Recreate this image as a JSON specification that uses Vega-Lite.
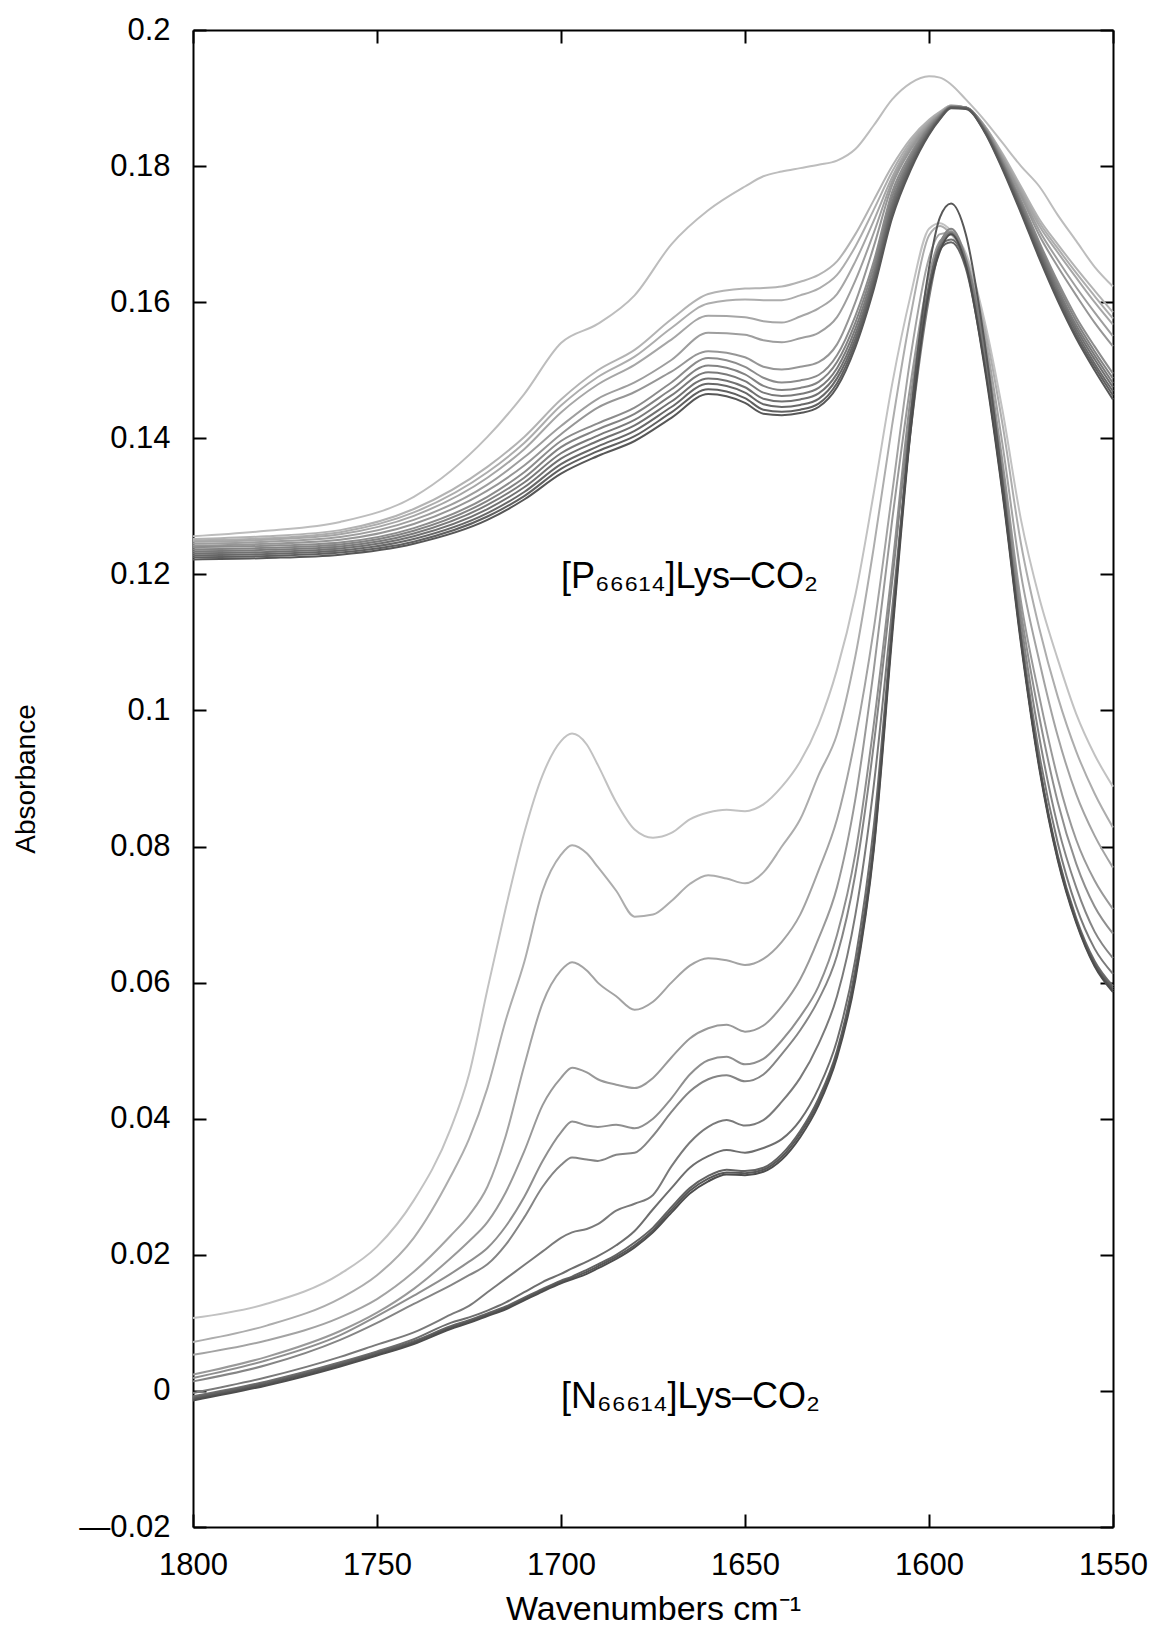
{
"$schema": "https://vega.github.io/schema/vega-lite/v6.json",
"width": 920, "height": 1497,
"autosize": "none",
"padding": {"left": 193, "top": 30, "right": 48, "bottom": 112},
"background": "white",
"config": {
  "view": {"stroke": null},
  "font": "Liberation Sans",
  "axis": {"domainColor": "black", "domainWidth": 2, "tickColor": "black", "tickWidth": 2, "tickSize": -13, "labelFont": "Liberation Sans", "labelFontSize": 31, "labelColor": "black", "titleFont": "Liberation Sans", "titleFontSize": 28, "titleFontWeight": "normal", "titleColor": "black", "grid": false, "labelPadding": 36, "labelFlush": false, "labelOverlap": false}
},
"datasets": {
"ann": [
 {"t": "[P₆₆₆₁₄]Lys–CO₂", "x": 1700, "y": 0.118},
 {"t": "[N₆₆₆₁₄]Lys–CO₂", "x": 1700, "y": -0.0025}
],
"spec": [
{"c":"U0","x":1800,"y":0.1256},{"c":"U0","x":1780,"y":0.1264},{"c":"U0","x":1760,"y":0.1277},{"c":"U0","x":1740,"y":0.1314},{"c":"U0","x":1720,"y":0.1402},{"c":"U0","x":1710,"y":0.1465},{"c":"U0","x":1700,"y":0.1540},{"c":"U0","x":1690,"y":0.1568},{"c":"U0","x":1680,"y":0.1610},{"c":"U0","x":1670,"y":0.1685},{"c":"U0","x":1660,"y":0.1735},{"c":"U0","x":1650,"y":0.1770},{"c":"U0","x":1645,"y":0.1785},{"c":"U0","x":1640,"y":0.1792},{"c":"U0","x":1635,"y":0.1797},{"c":"U0","x":1630,"y":0.1802},{"c":"U0","x":1625,"y":0.1808},{"c":"U0","x":1620,"y":0.1825},{"c":"U0","x":1615,"y":0.1860},{"c":"U0","x":1610,"y":0.1898},{"c":"U0","x":1605,"y":0.1922},{"c":"U0","x":1600,"y":0.1932},{"c":"U0","x":1597,"y":0.1930},{"c":"U0","x":1594,"y":0.1920},{"c":"U0","x":1590,"y":0.1898},{"c":"U0","x":1585,"y":0.1868},{"c":"U0","x":1580,"y":0.1834},{"c":"U0","x":1575,"y":0.1800},{"c":"U0","x":1570,"y":0.1770},{"c":"U0","x":1565,"y":0.1728},{"c":"U0","x":1560,"y":0.1690},{"c":"U0","x":1555,"y":0.1652},{"c":"U0","x":1550,"y":0.1623},
{"c":"U1","x":1800,"y":0.1252},{"c":"U1","x":1780,"y":0.1256},{"c":"U1","x":1760,"y":0.1265},{"c":"U1","x":1740,"y":0.1296},{"c":"U1","x":1720,"y":0.1358},{"c":"U1","x":1710,"y":0.1402},{"c":"U1","x":1700,"y":0.1457},{"c":"U1","x":1690,"y":0.1500},{"c":"U1","x":1680,"y":0.1530},{"c":"U1","x":1670,"y":0.1575},{"c":"U1","x":1660,"y":0.1612},{"c":"U1","x":1650,"y":0.1620},{"c":"U1","x":1645,"y":0.1621},{"c":"U1","x":1640,"y":0.1623},{"c":"U1","x":1635,"y":0.1630},{"c":"U1","x":1630,"y":0.1640},{"c":"U1","x":1625,"y":0.1660},{"c":"U1","x":1620,"y":0.1700},{"c":"U1","x":1615,"y":0.1750},{"c":"U1","x":1610,"y":0.1800},{"c":"U1","x":1605,"y":0.1840},{"c":"U1","x":1600,"y":0.1868},{"c":"U1","x":1597,"y":0.1880},{"c":"U1","x":1594,"y":0.1889},{"c":"U1","x":1590,"y":0.1886},{"c":"U1","x":1585,"y":0.1860},{"c":"U1","x":1580,"y":0.1818},{"c":"U1","x":1575,"y":0.1770},{"c":"U1","x":1570,"y":0.1722},{"c":"U1","x":1565,"y":0.1685},{"c":"U1","x":1560,"y":0.1650},{"c":"U1","x":1555,"y":0.1617},{"c":"U1","x":1550,"y":0.1585},
{"c":"U2","x":1800,"y":0.1250},{"c":"U2","x":1780,"y":0.1253},{"c":"U2","x":1760,"y":0.1262},{"c":"U2","x":1740,"y":0.1291},{"c":"U2","x":1720,"y":0.1350},{"c":"U2","x":1710,"y":0.1393},{"c":"U2","x":1700,"y":0.1448},{"c":"U2","x":1690,"y":0.1490},{"c":"U2","x":1680,"y":0.1520},{"c":"U2","x":1670,"y":0.1562},{"c":"U2","x":1660,"y":0.1598},{"c":"U2","x":1650,"y":0.1604},{"c":"U2","x":1645,"y":0.1603},{"c":"U2","x":1640,"y":0.1603},{"c":"U2","x":1635,"y":0.1610},{"c":"U2","x":1630,"y":0.1620},{"c":"U2","x":1625,"y":0.1640},{"c":"U2","x":1620,"y":0.1682},{"c":"U2","x":1615,"y":0.1736},{"c":"U2","x":1610,"y":0.1792},{"c":"U2","x":1605,"y":0.1836},{"c":"U2","x":1600,"y":0.1866},{"c":"U2","x":1597,"y":0.1879},{"c":"U2","x":1594,"y":0.1889},{"c":"U2","x":1590,"y":0.1886},{"c":"U2","x":1585,"y":0.1860},{"c":"U2","x":1580,"y":0.1816},{"c":"U2","x":1575,"y":0.1767},{"c":"U2","x":1570,"y":0.1717},{"c":"U2","x":1565,"y":0.1679},{"c":"U2","x":1560,"y":0.1643},{"c":"U2","x":1555,"y":0.1609},{"c":"U2","x":1550,"y":0.1576},
{"c":"U3","x":1800,"y":0.1248},{"c":"U3","x":1780,"y":0.1251},{"c":"U3","x":1760,"y":0.1259},{"c":"U3","x":1740,"y":0.1286},{"c":"U3","x":1720,"y":0.1342},{"c":"U3","x":1710,"y":0.1384},{"c":"U3","x":1700,"y":0.1438},{"c":"U3","x":1690,"y":0.1479},{"c":"U3","x":1680,"y":0.1508},{"c":"U3","x":1670,"y":0.1545},{"c":"U3","x":1660,"y":0.1580},{"c":"U3","x":1650,"y":0.1578},{"c":"U3","x":1645,"y":0.1572},{"c":"U3","x":1640,"y":0.1570},{"c":"U3","x":1635,"y":0.1579},{"c":"U3","x":1630,"y":0.1591},{"c":"U3","x":1625,"y":0.1612},{"c":"U3","x":1620,"y":0.1660},{"c":"U3","x":1615,"y":0.1720},{"c":"U3","x":1610,"y":0.1784},{"c":"U3","x":1605,"y":0.1832},{"c":"U3","x":1600,"y":0.1864},{"c":"U3","x":1597,"y":0.1878},{"c":"U3","x":1594,"y":0.1888},{"c":"U3","x":1590,"y":0.1886},{"c":"U3","x":1585,"y":0.1859},{"c":"U3","x":1580,"y":0.1814},{"c":"U3","x":1575,"y":0.1764},{"c":"U3","x":1570,"y":0.1712},{"c":"U3","x":1565,"y":0.1673},{"c":"U3","x":1560,"y":0.1636},{"c":"U3","x":1555,"y":0.1600},{"c":"U3","x":1550,"y":0.1567},
{"c":"U4","x":1800,"y":0.1245},{"c":"U4","x":1780,"y":0.1248},{"c":"U4","x":1760,"y":0.1255},{"c":"U4","x":1740,"y":0.1280},{"c":"U4","x":1720,"y":0.1332},{"c":"U4","x":1710,"y":0.1372},{"c":"U4","x":1700,"y":0.1418},{"c":"U4","x":1690,"y":0.1458},{"c":"U4","x":1680,"y":0.1482},{"c":"U4","x":1670,"y":0.1515},{"c":"U4","x":1660,"y":0.1555},{"c":"U4","x":1650,"y":0.1552},{"c":"U4","x":1645,"y":0.1544},{"c":"U4","x":1640,"y":0.1541},{"c":"U4","x":1635,"y":0.1547},{"c":"U4","x":1630,"y":0.1555},{"c":"U4","x":1625,"y":0.1578},{"c":"U4","x":1620,"y":0.1632},{"c":"U4","x":1615,"y":0.1702},{"c":"U4","x":1610,"y":0.1778},{"c":"U4","x":1605,"y":0.1828},{"c":"U4","x":1600,"y":0.1862},{"c":"U4","x":1597,"y":0.1877},{"c":"U4","x":1594,"y":0.1888},{"c":"U4","x":1590,"y":0.1886},{"c":"U4","x":1585,"y":0.1859},{"c":"U4","x":1580,"y":0.1812},{"c":"U4","x":1575,"y":0.1760},{"c":"U4","x":1570,"y":0.1705},{"c":"U4","x":1565,"y":0.1662},{"c":"U4","x":1560,"y":0.1622},{"c":"U4","x":1555,"y":0.1585},{"c":"U4","x":1550,"y":0.1550},
{"c":"U5","x":1800,"y":0.1242},{"c":"U5","x":1780,"y":0.1245},{"c":"U5","x":1760,"y":0.1251},{"c":"U5","x":1740,"y":0.1274},{"c":"U5","x":1720,"y":0.1323},{"c":"U5","x":1710,"y":0.1360},{"c":"U5","x":1700,"y":0.1406},{"c":"U5","x":1690,"y":0.1445},{"c":"U5","x":1680,"y":0.1468},{"c":"U5","x":1670,"y":0.1498},{"c":"U5","x":1660,"y":0.1528},{"c":"U5","x":1650,"y":0.1519},{"c":"U5","x":1645,"y":0.1505},{"c":"U5","x":1640,"y":0.1501},{"c":"U5","x":1635,"y":0.1505},{"c":"U5","x":1630,"y":0.1512},{"c":"U5","x":1625,"y":0.1538},{"c":"U5","x":1620,"y":0.1600},{"c":"U5","x":1615,"y":0.1682},{"c":"U5","x":1610,"y":0.1772},{"c":"U5","x":1605,"y":0.1824},{"c":"U5","x":1600,"y":0.1860},{"c":"U5","x":1597,"y":0.1876},{"c":"U5","x":1594,"y":0.1888},{"c":"U5","x":1590,"y":0.1886},{"c":"U5","x":1585,"y":0.1858},{"c":"U5","x":1580,"y":0.1810},{"c":"U5","x":1575,"y":0.1756},{"c":"U5","x":1570,"y":0.1698},{"c":"U5","x":1565,"y":0.1652},{"c":"U5","x":1560,"y":0.1610},{"c":"U5","x":1555,"y":0.1570},{"c":"U5","x":1550,"y":0.1535},
{"c":"U6","x":1800,"y":0.1240},{"c":"U6","x":1780,"y":0.1242},{"c":"U6","x":1760,"y":0.1247},{"c":"U6","x":1740,"y":0.1268},{"c":"U6","x":1720,"y":0.1314},{"c":"U6","x":1710,"y":0.1350},{"c":"U6","x":1700,"y":0.1396},{"c":"U6","x":1690,"y":0.1422},{"c":"U6","x":1680,"y":0.1445},{"c":"U6","x":1670,"y":0.1482},{"c":"U6","x":1660,"y":0.1518},{"c":"U6","x":1650,"y":0.1505},{"c":"U6","x":1645,"y":0.1489},{"c":"U6","x":1640,"y":0.1482},{"c":"U6","x":1635,"y":0.1485},{"c":"U6","x":1630,"y":0.1493},{"c":"U6","x":1625,"y":0.1522},{"c":"U6","x":1620,"y":0.1580},{"c":"U6","x":1615,"y":0.1660},{"c":"U6","x":1610,"y":0.1762},{"c":"U6","x":1605,"y":0.1818},{"c":"U6","x":1600,"y":0.1858},{"c":"U6","x":1597,"y":0.1875},{"c":"U6","x":1594,"y":0.1888},{"c":"U6","x":1590,"y":0.1886},{"c":"U6","x":1585,"y":0.1857},{"c":"U6","x":1580,"y":0.1807},{"c":"U6","x":1575,"y":0.1750},{"c":"U6","x":1570,"y":0.1688},{"c":"U6","x":1565,"y":0.1630},{"c":"U6","x":1560,"y":0.1578},{"c":"U6","x":1555,"y":0.1535},{"c":"U6","x":1550,"y":0.1495},
{"c":"U7","x":1800,"y":0.1237},{"c":"U7","x":1780,"y":0.1239},{"c":"U7","x":1760,"y":0.1244},{"c":"U7","x":1740,"y":0.1264},{"c":"U7","x":1720,"y":0.1308},{"c":"U7","x":1710,"y":0.1342},{"c":"U7","x":1700,"y":0.1387},{"c":"U7","x":1690,"y":0.1413},{"c":"U7","x":1680,"y":0.1436},{"c":"U7","x":1670,"y":0.1472},{"c":"U7","x":1660,"y":0.1507},{"c":"U7","x":1650,"y":0.1494},{"c":"U7","x":1645,"y":0.1477},{"c":"U7","x":1640,"y":0.1471},{"c":"U7","x":1635,"y":0.1474},{"c":"U7","x":1630,"y":0.1483},{"c":"U7","x":1625,"y":0.1512},{"c":"U7","x":1620,"y":0.1570},{"c":"U7","x":1615,"y":0.1652},{"c":"U7","x":1610,"y":0.1755},{"c":"U7","x":1605,"y":0.1814},{"c":"U7","x":1600,"y":0.1856},{"c":"U7","x":1597,"y":0.1874},{"c":"U7","x":1594,"y":0.1887},{"c":"U7","x":1590,"y":0.1886},{"c":"U7","x":1585,"y":0.1856},{"c":"U7","x":1580,"y":0.1805},{"c":"U7","x":1575,"y":0.1746},{"c":"U7","x":1570,"y":0.1684},{"c":"U7","x":1565,"y":0.1625},{"c":"U7","x":1560,"y":0.1572},{"c":"U7","x":1555,"y":0.1528},{"c":"U7","x":1550,"y":0.1488},
{"c":"U8","x":1800,"y":0.1234},{"c":"U8","x":1780,"y":0.1236},{"c":"U8","x":1760,"y":0.1241},{"c":"U8","x":1740,"y":0.1260},{"c":"U8","x":1720,"y":0.1302},{"c":"U8","x":1710,"y":0.1335},{"c":"U8","x":1700,"y":0.1378},{"c":"U8","x":1690,"y":0.1404},{"c":"U8","x":1680,"y":0.1427},{"c":"U8","x":1670,"y":0.1463},{"c":"U8","x":1660,"y":0.1497},{"c":"U8","x":1650,"y":0.1484},{"c":"U8","x":1645,"y":0.1467},{"c":"U8","x":1640,"y":0.1462},{"c":"U8","x":1635,"y":0.1465},{"c":"U8","x":1630,"y":0.1474},{"c":"U8","x":1625,"y":0.1503},{"c":"U8","x":1620,"y":0.1561},{"c":"U8","x":1615,"y":0.1644},{"c":"U8","x":1610,"y":0.1748},{"c":"U8","x":1605,"y":0.1810},{"c":"U8","x":1600,"y":0.1854},{"c":"U8","x":1597,"y":0.1873},{"c":"U8","x":1594,"y":0.1887},{"c":"U8","x":1590,"y":0.1886},{"c":"U8","x":1585,"y":0.1855},{"c":"U8","x":1580,"y":0.1803},{"c":"U8","x":1575,"y":0.1743},{"c":"U8","x":1570,"y":0.1680},{"c":"U8","x":1565,"y":0.1620},{"c":"U8","x":1560,"y":0.1566},{"c":"U8","x":1555,"y":0.1522},{"c":"U8","x":1550,"y":0.1481},
{"c":"U9","x":1800,"y":0.1231},{"c":"U9","x":1780,"y":0.1233},{"c":"U9","x":1760,"y":0.1238},{"c":"U9","x":1740,"y":0.1256},{"c":"U9","x":1720,"y":0.1296},{"c":"U9","x":1710,"y":0.1328},{"c":"U9","x":1700,"y":0.1370},{"c":"U9","x":1690,"y":0.1396},{"c":"U9","x":1680,"y":0.1419},{"c":"U9","x":1670,"y":0.1454},{"c":"U9","x":1660,"y":0.1488},{"c":"U9","x":1650,"y":0.1475},{"c":"U9","x":1645,"y":0.1458},{"c":"U9","x":1640,"y":0.1454},{"c":"U9","x":1635,"y":0.1457},{"c":"U9","x":1630,"y":0.1466},{"c":"U9","x":1625,"y":0.1495},{"c":"U9","x":1620,"y":0.1553},{"c":"U9","x":1615,"y":0.1637},{"c":"U9","x":1610,"y":0.1742},{"c":"U9","x":1605,"y":0.1806},{"c":"U9","x":1600,"y":0.1852},{"c":"U9","x":1597,"y":0.1872},{"c":"U9","x":1594,"y":0.1887},{"c":"U9","x":1590,"y":0.1885},{"c":"U9","x":1585,"y":0.1854},{"c":"U9","x":1580,"y":0.1801},{"c":"U9","x":1575,"y":0.1740},{"c":"U9","x":1570,"y":0.1676},{"c":"U9","x":1565,"y":0.1615},{"c":"U9","x":1560,"y":0.1561},{"c":"U9","x":1555,"y":0.1516},{"c":"U9","x":1550,"y":0.1475},
{"c":"U10","x":1800,"y":0.1228},{"c":"U10","x":1780,"y":0.1230},{"c":"U10","x":1760,"y":0.1235},{"c":"U10","x":1740,"y":0.1252},{"c":"U10","x":1720,"y":0.1290},{"c":"U10","x":1710,"y":0.1321},{"c":"U10","x":1700,"y":0.1362},{"c":"U10","x":1690,"y":0.1388},{"c":"U10","x":1680,"y":0.1411},{"c":"U10","x":1670,"y":0.1446},{"c":"U10","x":1660,"y":0.1480},{"c":"U10","x":1650,"y":0.1467},{"c":"U10","x":1645,"y":0.1450},{"c":"U10","x":1640,"y":0.1446},{"c":"U10","x":1635,"y":0.1449},{"c":"U10","x":1630,"y":0.1458},{"c":"U10","x":1625,"y":0.1488},{"c":"U10","x":1620,"y":0.1546},{"c":"U10","x":1615,"y":0.1631},{"c":"U10","x":1610,"y":0.1736},{"c":"U10","x":1605,"y":0.1802},{"c":"U10","x":1600,"y":0.1850},{"c":"U10","x":1597,"y":0.1871},{"c":"U10","x":1594,"y":0.1886},{"c":"U10","x":1590,"y":0.1885},{"c":"U10","x":1585,"y":0.1853},{"c":"U10","x":1580,"y":0.1799},{"c":"U10","x":1575,"y":0.1737},{"c":"U10","x":1570,"y":0.1672},{"c":"U10","x":1565,"y":0.1610},{"c":"U10","x":1560,"y":0.1556},{"c":"U10","x":1555,"y":0.1510},{"c":"U10","x":1550,"y":0.1469},
{"c":"U11","x":1800,"y":0.1225},{"c":"U11","x":1780,"y":0.1227},{"c":"U11","x":1760,"y":0.1232},{"c":"U11","x":1740,"y":0.1248},{"c":"U11","x":1720,"y":0.1285},{"c":"U11","x":1710,"y":0.1315},{"c":"U11","x":1700,"y":0.1355},{"c":"U11","x":1690,"y":0.1381},{"c":"U11","x":1680,"y":0.1403},{"c":"U11","x":1670,"y":0.1438},{"c":"U11","x":1660,"y":0.1472},{"c":"U11","x":1650,"y":0.1459},{"c":"U11","x":1645,"y":0.1442},{"c":"U11","x":1640,"y":0.1439},{"c":"U11","x":1635,"y":0.1442},{"c":"U11","x":1630,"y":0.1451},{"c":"U11","x":1625,"y":0.1481},{"c":"U11","x":1620,"y":0.1540},{"c":"U11","x":1615,"y":0.1625},{"c":"U11","x":1610,"y":0.1730},{"c":"U11","x":1605,"y":0.1798},{"c":"U11","x":1600,"y":0.1848},{"c":"U11","x":1597,"y":0.1870},{"c":"U11","x":1594,"y":0.1886},{"c":"U11","x":1590,"y":0.1885},{"c":"U11","x":1585,"y":0.1852},{"c":"U11","x":1580,"y":0.1797},{"c":"U11","x":1575,"y":0.1734},{"c":"U11","x":1570,"y":0.1668},{"c":"U11","x":1565,"y":0.1606},{"c":"U11","x":1560,"y":0.1551},{"c":"U11","x":1555,"y":0.1505},{"c":"U11","x":1550,"y":0.1463},
{"c":"U12","x":1800,"y":0.1222},{"c":"U12","x":1780,"y":0.1224},{"c":"U12","x":1760,"y":0.1229},{"c":"U12","x":1740,"y":0.1245},{"c":"U12","x":1720,"y":0.1280},{"c":"U12","x":1710,"y":0.1310},{"c":"U12","x":1700,"y":0.1348},{"c":"U12","x":1690,"y":0.1374},{"c":"U12","x":1680,"y":0.1396},{"c":"U12","x":1670,"y":0.1430},{"c":"U12","x":1660,"y":0.1465},{"c":"U12","x":1650,"y":0.1452},{"c":"U12","x":1645,"y":0.1436},{"c":"U12","x":1640,"y":0.1434},{"c":"U12","x":1635,"y":0.1437},{"c":"U12","x":1630,"y":0.1446},{"c":"U12","x":1625,"y":0.1475},{"c":"U12","x":1620,"y":0.1534},{"c":"U12","x":1615,"y":0.1619},{"c":"U12","x":1610,"y":0.1724},{"c":"U12","x":1605,"y":0.1794},{"c":"U12","x":1600,"y":0.1846},{"c":"U12","x":1597,"y":0.1869},{"c":"U12","x":1594,"y":0.1885},{"c":"U12","x":1590,"y":0.1884},{"c":"U12","x":1585,"y":0.1851},{"c":"U12","x":1580,"y":0.1795},{"c":"U12","x":1575,"y":0.1731},{"c":"U12","x":1570,"y":0.1664},{"c":"U12","x":1565,"y":0.1602},{"c":"U12","x":1560,"y":0.1547},{"c":"U12","x":1555,"y":0.1500},{"c":"U12","x":1550,"y":0.1457},
{"c":"L1","x":1800,"y":0.0107},{"c":"L1","x":1780,"y":0.0128},{"c":"L1","x":1760,"y":0.0172},{"c":"L1","x":1750,"y":0.0212},{"c":"L1","x":1740,"y":0.0280},{"c":"L1","x":1730,"y":0.0385},{"c":"L1","x":1725,"y":0.0465},{"c":"L1","x":1720,"y":0.0590},{"c":"L1","x":1715,"y":0.0710},{"c":"L1","x":1710,"y":0.0820},{"c":"L1","x":1705,"y":0.0905},{"c":"L1","x":1700,"y":0.0955},{"c":"L1","x":1697,"y":0.0966},{"c":"L1","x":1693,"y":0.0950},{"c":"L1","x":1690,"y":0.0920},{"c":"L1","x":1685,"y":0.0865},{"c":"L1","x":1680,"y":0.0825},{"c":"L1","x":1675,"y":0.0813},{"c":"L1","x":1670,"y":0.0820},{"c":"L1","x":1665,"y":0.0840},{"c":"L1","x":1660,"y":0.0850},{"c":"L1","x":1655,"y":0.0854},{"c":"L1","x":1650,"y":0.0852},{"c":"L1","x":1645,"y":0.0862},{"c":"L1","x":1640,"y":0.0888},{"c":"L1","x":1635,"y":0.0925},{"c":"L1","x":1630,"y":0.0980},{"c":"L1","x":1625,"y":0.1060},{"c":"L1","x":1620,"y":0.1170},{"c":"L1","x":1615,"y":0.1320},{"c":"L1","x":1610,"y":0.1480},{"c":"L1","x":1605,"y":0.1610},{"c":"L1","x":1600,"y":0.1708},{"c":"L1","x":1597,"y":0.1716},{"c":"L1","x":1594,"y":0.1705},{"c":"L1","x":1590,"y":0.1672},{"c":"L1","x":1585,"y":0.1575},{"c":"L1","x":1580,"y":0.1440},{"c":"L1","x":1575,"y":0.1280},{"c":"L1","x":1570,"y":0.1165},{"c":"L1","x":1565,"y":0.1075},{"c":"L1","x":1560,"y":0.0995},{"c":"L1","x":1555,"y":0.0935},{"c":"L1","x":1550,"y":0.0888},
{"c":"L2","x":1800,"y":0.0072},{"c":"L2","x":1780,"y":0.0096},{"c":"L2","x":1760,"y":0.0136},{"c":"L2","x":1750,"y":0.0170},{"c":"L2","x":1740,"y":0.0225},{"c":"L2","x":1730,"y":0.0315},{"c":"L2","x":1725,"y":0.0370},{"c":"L2","x":1720,"y":0.0445},{"c":"L2","x":1715,"y":0.0545},{"c":"L2","x":1710,"y":0.0630},{"c":"L2","x":1705,"y":0.0735},{"c":"L2","x":1700,"y":0.0788},{"c":"L2","x":1697,"y":0.0802},{"c":"L2","x":1693,"y":0.0790},{"c":"L2","x":1690,"y":0.0770},{"c":"L2","x":1685,"y":0.0735},{"c":"L2","x":1680,"y":0.0697},{"c":"L2","x":1675,"y":0.0700},{"c":"L2","x":1670,"y":0.0720},{"c":"L2","x":1665,"y":0.0745},{"c":"L2","x":1660,"y":0.0758},{"c":"L2","x":1655,"y":0.0753},{"c":"L2","x":1650,"y":0.0746},{"c":"L2","x":1645,"y":0.0762},{"c":"L2","x":1640,"y":0.0800},{"c":"L2","x":1635,"y":0.0840},{"c":"L2","x":1630,"y":0.0905},{"c":"L2","x":1625,"y":0.0965},{"c":"L2","x":1620,"y":0.1080},{"c":"L2","x":1615,"y":0.1240},{"c":"L2","x":1610,"y":0.1420},{"c":"L2","x":1605,"y":0.1580},{"c":"L2","x":1600,"y":0.1698},{"c":"L2","x":1597,"y":0.1712},{"c":"L2","x":1594,"y":0.1700},{"c":"L2","x":1590,"y":0.1665},{"c":"L2","x":1585,"y":0.1565},{"c":"L2","x":1580,"y":0.1420},{"c":"L2","x":1575,"y":0.1245},{"c":"L2","x":1570,"y":0.1120},{"c":"L2","x":1565,"y":0.1020},{"c":"L2","x":1560,"y":0.0940},{"c":"L2","x":1555,"y":0.0878},{"c":"L2","x":1550,"y":0.0828},
{"c":"L3","x":1800,"y":0.0053},{"c":"L3","x":1780,"y":0.0074},{"c":"L3","x":1760,"y":0.0108},{"c":"L3","x":1750,"y":0.0135},{"c":"L3","x":1740,"y":0.0175},{"c":"L3","x":1730,"y":0.0228},{"c":"L3","x":1725,"y":0.0258},{"c":"L3","x":1720,"y":0.0300},{"c":"L3","x":1715,"y":0.0375},{"c":"L3","x":1710,"y":0.0478},{"c":"L3","x":1705,"y":0.0570},{"c":"L3","x":1700,"y":0.0618},{"c":"L3","x":1697,"y":0.0630},{"c":"L3","x":1693,"y":0.0618},{"c":"L3","x":1690,"y":0.0600},{"c":"L3","x":1685,"y":0.0580},{"c":"L3","x":1680,"y":0.0560},{"c":"L3","x":1675,"y":0.0572},{"c":"L3","x":1670,"y":0.0600},{"c":"L3","x":1665,"y":0.0625},{"c":"L3","x":1660,"y":0.0636},{"c":"L3","x":1655,"y":0.0633},{"c":"L3","x":1650,"y":0.0626},{"c":"L3","x":1645,"y":0.0635},{"c":"L3","x":1640,"y":0.0660},{"c":"L3","x":1635,"y":0.0700},{"c":"L3","x":1630,"y":0.0765},{"c":"L3","x":1625,"y":0.0840},{"c":"L3","x":1620,"y":0.0960},{"c":"L3","x":1615,"y":0.1120},{"c":"L3","x":1610,"y":0.1320},{"c":"L3","x":1605,"y":0.1520},{"c":"L3","x":1600,"y":0.1665},{"c":"L3","x":1597,"y":0.1700},{"c":"L3","x":1594,"y":0.1702},{"c":"L3","x":1590,"y":0.1660},{"c":"L3","x":1585,"y":0.1555},{"c":"L3","x":1580,"y":0.1390},{"c":"L3","x":1575,"y":0.1200},{"c":"L3","x":1570,"y":0.1072},{"c":"L3","x":1565,"y":0.0962},{"c":"L3","x":1560,"y":0.0877},{"c":"L3","x":1555,"y":0.0816},{"c":"L3","x":1550,"y":0.0769},
{"c":"L4","x":1800,"y":0.0024},{"c":"L4","x":1780,"y":0.0050},{"c":"L4","x":1760,"y":0.0088},{"c":"L4","x":1750,"y":0.0115},{"c":"L4","x":1740,"y":0.0150},{"c":"L4","x":1730,"y":0.0195},{"c":"L4","x":1725,"y":0.0220},{"c":"L4","x":1720,"y":0.0248},{"c":"L4","x":1715,"y":0.0292},{"c":"L4","x":1710,"y":0.0352},{"c":"L4","x":1705,"y":0.0420},{"c":"L4","x":1700,"y":0.0460},{"c":"L4","x":1697,"y":0.0475},{"c":"L4","x":1693,"y":0.0468},{"c":"L4","x":1690,"y":0.0458},{"c":"L4","x":1685,"y":0.0450},{"c":"L4","x":1680,"y":0.0445},{"c":"L4","x":1675,"y":0.0460},{"c":"L4","x":1670,"y":0.0490},{"c":"L4","x":1665,"y":0.0518},{"c":"L4","x":1660,"y":0.0533},{"c":"L4","x":1655,"y":0.0538},{"c":"L4","x":1650,"y":0.0528},{"c":"L4","x":1645,"y":0.0537},{"c":"L4","x":1640,"y":0.0565},{"c":"L4","x":1635,"y":0.0605},{"c":"L4","x":1630,"y":0.0665},{"c":"L4","x":1625,"y":0.0740},{"c":"L4","x":1620,"y":0.0870},{"c":"L4","x":1615,"y":0.1060},{"c":"L4","x":1610,"y":0.1280},{"c":"L4","x":1605,"y":0.1480},{"c":"L4","x":1600,"y":0.1640},{"c":"L4","x":1597,"y":0.1690},{"c":"L4","x":1594,"y":0.1700},{"c":"L4","x":1590,"y":0.1660},{"c":"L4","x":1585,"y":0.1545},{"c":"L4","x":1580,"y":0.1365},{"c":"L4","x":1575,"y":0.1160},{"c":"L4","x":1570,"y":0.1020},{"c":"L4","x":1565,"y":0.0900},{"c":"L4","x":1560,"y":0.0810},{"c":"L4","x":1555,"y":0.0750},{"c":"L4","x":1550,"y":0.0708},
{"c":"L5","x":1800,"y":0.0019},{"c":"L5","x":1780,"y":0.0045},{"c":"L5","x":1760,"y":0.0082},{"c":"L5","x":1750,"y":0.0110},{"c":"L5","x":1740,"y":0.0140},{"c":"L5","x":1730,"y":0.0172},{"c":"L5","x":1725,"y":0.0190},{"c":"L5","x":1720,"y":0.0210},{"c":"L5","x":1715,"y":0.0242},{"c":"L5","x":1710,"y":0.0285},{"c":"L5","x":1705,"y":0.0338},{"c":"L5","x":1700,"y":0.0380},{"c":"L5","x":1697,"y":0.0396},{"c":"L5","x":1693,"y":0.0390},{"c":"L5","x":1690,"y":0.0388},{"c":"L5","x":1685,"y":0.0391},{"c":"L5","x":1680,"y":0.0386},{"c":"L5","x":1675,"y":0.0400},{"c":"L5","x":1670,"y":0.0430},{"c":"L5","x":1665,"y":0.0465},{"c":"L5","x":1660,"y":0.0486},{"c":"L5","x":1655,"y":0.0491},{"c":"L5","x":1650,"y":0.0480},{"c":"L5","x":1645,"y":0.0488},{"c":"L5","x":1640,"y":0.0515},{"c":"L5","x":1635,"y":0.0550},{"c":"L5","x":1630,"y":0.0595},{"c":"L5","x":1625,"y":0.0670},{"c":"L5","x":1620,"y":0.0790},{"c":"L5","x":1615,"y":0.0980},{"c":"L5","x":1610,"y":0.1210},{"c":"L5","x":1605,"y":0.1460},{"c":"L5","x":1600,"y":0.1625},{"c":"L5","x":1597,"y":0.1688},{"c":"L5","x":1594,"y":0.1704},{"c":"L5","x":1590,"y":0.1662},{"c":"L5","x":1585,"y":0.1540},{"c":"L5","x":1580,"y":0.1355},{"c":"L5","x":1575,"y":0.1145},{"c":"L5","x":1570,"y":0.0990},{"c":"L5","x":1565,"y":0.0865},{"c":"L5","x":1560,"y":0.0775},{"c":"L5","x":1555,"y":0.0712},{"c":"L5","x":1550,"y":0.0672},
{"c":"L6","x":1800,"y":0.0014},{"c":"L6","x":1780,"y":0.0038},{"c":"L6","x":1760,"y":0.0075},{"c":"L6","x":1750,"y":0.0100},{"c":"L6","x":1740,"y":0.0128},{"c":"L6","x":1730,"y":0.0155},{"c":"L6","x":1725,"y":0.0170},{"c":"L6","x":1720,"y":0.0186},{"c":"L6","x":1715,"y":0.0215},{"c":"L6","x":1710,"y":0.0255},{"c":"L6","x":1705,"y":0.0300},{"c":"L6","x":1700,"y":0.0332},{"c":"L6","x":1697,"y":0.0343},{"c":"L6","x":1693,"y":0.0340},{"c":"L6","x":1690,"y":0.0338},{"c":"L6","x":1685,"y":0.0347},{"c":"L6","x":1680,"y":0.0350},{"c":"L6","x":1675,"y":0.0375},{"c":"L6","x":1670,"y":0.0410},{"c":"L6","x":1665,"y":0.0440},{"c":"L6","x":1660,"y":0.0458},{"c":"L6","x":1655,"y":0.0464},{"c":"L6","x":1650,"y":0.0455},{"c":"L6","x":1645,"y":0.0465},{"c":"L6","x":1640,"y":0.0495},{"c":"L6","x":1635,"y":0.0530},{"c":"L6","x":1630,"y":0.0575},{"c":"L6","x":1625,"y":0.0640},{"c":"L6","x":1620,"y":0.0760},{"c":"L6","x":1615,"y":0.0950},{"c":"L6","x":1610,"y":0.1190},{"c":"L6","x":1605,"y":0.1440},{"c":"L6","x":1600,"y":0.1615},{"c":"L6","x":1597,"y":0.1685},{"c":"L6","x":1594,"y":0.1708},{"c":"L6","x":1590,"y":0.1665},{"c":"L6","x":1585,"y":0.1535},{"c":"L6","x":1580,"y":0.1345},{"c":"L6","x":1575,"y":0.1130},{"c":"L6","x":1570,"y":0.0960},{"c":"L6","x":1565,"y":0.0830},{"c":"L6","x":1560,"y":0.0740},{"c":"L6","x":1555,"y":0.0675},{"c":"L6","x":1550,"y":0.0636},
{"c":"L7","x":1800,"y":-0.0003},{"c":"L7","x":1780,"y":0.0020},{"c":"L7","x":1760,"y":0.0050},{"c":"L7","x":1750,"y":0.0068},{"c":"L7","x":1740,"y":0.0086},{"c":"L7","x":1730,"y":0.0112},{"c":"L7","x":1725,"y":0.0125},{"c":"L7","x":1720,"y":0.0145},{"c":"L7","x":1715,"y":0.0165},{"c":"L7","x":1710,"y":0.0185},{"c":"L7","x":1705,"y":0.0205},{"c":"L7","x":1700,"y":0.0225},{"c":"L7","x":1697,"y":0.0233},{"c":"L7","x":1693,"y":0.0238},{"c":"L7","x":1690,"y":0.0245},{"c":"L7","x":1685,"y":0.0265},{"c":"L7","x":1680,"y":0.0275},{"c":"L7","x":1675,"y":0.0288},{"c":"L7","x":1670,"y":0.0330},{"c":"L7","x":1665,"y":0.0365},{"c":"L7","x":1660,"y":0.0388},{"c":"L7","x":1655,"y":0.0398},{"c":"L7","x":1650,"y":0.0390},{"c":"L7","x":1645,"y":0.0398},{"c":"L7","x":1640,"y":0.0425},{"c":"L7","x":1635,"y":0.0460},{"c":"L7","x":1630,"y":0.0510},{"c":"L7","x":1625,"y":0.0580},{"c":"L7","x":1620,"y":0.0700},{"c":"L7","x":1615,"y":0.0890},{"c":"L7","x":1610,"y":0.1150},{"c":"L7","x":1605,"y":0.1410},{"c":"L7","x":1600,"y":0.1605},{"c":"L7","x":1597,"y":0.1680},{"c":"L7","x":1594,"y":0.1702},{"c":"L7","x":1590,"y":0.1660},{"c":"L7","x":1585,"y":0.1528},{"c":"L7","x":1580,"y":0.1335},{"c":"L7","x":1575,"y":0.1115},{"c":"L7","x":1570,"y":0.0935},{"c":"L7","x":1565,"y":0.0805},{"c":"L7","x":1560,"y":0.0712},{"c":"L7","x":1555,"y":0.0650},{"c":"L7","x":1550,"y":0.0613},
{"c":"L8","x":1800,"y":-0.0008},{"c":"L8","x":1780,"y":0.0014},{"c":"L8","x":1760,"y":0.0042},{"c":"L8","x":1750,"y":0.0058},{"c":"L8","x":1740,"y":0.0076},{"c":"L8","x":1730,"y":0.0100},{"c":"L8","x":1725,"y":0.0108},{"c":"L8","x":1720,"y":0.0118},{"c":"L8","x":1715,"y":0.0130},{"c":"L8","x":1710,"y":0.0145},{"c":"L8","x":1705,"y":0.0160},{"c":"L8","x":1700,"y":0.0172},{"c":"L8","x":1697,"y":0.0180},{"c":"L8","x":1693,"y":0.0190},{"c":"L8","x":1690,"y":0.0198},{"c":"L8","x":1685,"y":0.0214},{"c":"L8","x":1680,"y":0.0235},{"c":"L8","x":1675,"y":0.0267},{"c":"L8","x":1670,"y":0.0298},{"c":"L8","x":1665,"y":0.0328},{"c":"L8","x":1660,"y":0.0345},{"c":"L8","x":1655,"y":0.0354},{"c":"L8","x":1650,"y":0.0350},{"c":"L8","x":1645,"y":0.0357},{"c":"L8","x":1640,"y":0.0370},{"c":"L8","x":1635,"y":0.0398},{"c":"L8","x":1630,"y":0.0445},{"c":"L8","x":1625,"y":0.0515},{"c":"L8","x":1620,"y":0.0635},{"c":"L8","x":1615,"y":0.0830},{"c":"L8","x":1610,"y":0.1130},{"c":"L8","x":1605,"y":0.1420},{"c":"L8","x":1600,"y":0.1625},{"c":"L8","x":1597,"y":0.1682},{"c":"L8","x":1594,"y":0.1692},{"c":"L8","x":1590,"y":0.1655},{"c":"L8","x":1585,"y":0.1515},{"c":"L8","x":1580,"y":0.1325},{"c":"L8","x":1575,"y":0.1105},{"c":"L8","x":1570,"y":0.0920},{"c":"L8","x":1565,"y":0.0787},{"c":"L8","x":1560,"y":0.0695},{"c":"L8","x":1555,"y":0.0632},{"c":"L8","x":1550,"y":0.0595},
{"c":"L9","x":1800,"y":-0.0010},{"c":"L9","x":1780,"y":0.0012},{"c":"L9","x":1760,"y":0.0040},{"c":"L9","x":1750,"y":0.0056},{"c":"L9","x":1740,"y":0.0073},{"c":"L9","x":1730,"y":0.0095},{"c":"L9","x":1725,"y":0.0104},{"c":"L9","x":1720,"y":0.0114},{"c":"L9","x":1715,"y":0.0124},{"c":"L9","x":1710,"y":0.0137},{"c":"L9","x":1705,"y":0.0150},{"c":"L9","x":1700,"y":0.0162},{"c":"L9","x":1697,"y":0.0168},{"c":"L9","x":1693,"y":0.0178},{"c":"L9","x":1690,"y":0.0186},{"c":"L9","x":1685,"y":0.0200},{"c":"L9","x":1680,"y":0.0218},{"c":"L9","x":1675,"y":0.0240},{"c":"L9","x":1670,"y":0.0270},{"c":"L9","x":1665,"y":0.0298},{"c":"L9","x":1660,"y":0.0316},{"c":"L9","x":1655,"y":0.0325},{"c":"L9","x":1650,"y":0.0323},{"c":"L9","x":1645,"y":0.0328},{"c":"L9","x":1640,"y":0.0348},{"c":"L9","x":1635,"y":0.0382},{"c":"L9","x":1630,"y":0.0430},{"c":"L9","x":1625,"y":0.0500},{"c":"L9","x":1620,"y":0.0620},{"c":"L9","x":1615,"y":0.0810},{"c":"L9","x":1610,"y":0.1120},{"c":"L9","x":1605,"y":0.1415},{"c":"L9","x":1600,"y":0.1620},{"c":"L9","x":1597,"y":0.1678},{"c":"L9","x":1594,"y":0.1688},{"c":"L9","x":1590,"y":0.1650},{"c":"L9","x":1585,"y":0.1512},{"c":"L9","x":1580,"y":0.1322},{"c":"L9","x":1575,"y":0.1102},{"c":"L9","x":1570,"y":0.0918},{"c":"L9","x":1565,"y":0.0784},{"c":"L9","x":1560,"y":0.0692},{"c":"L9","x":1555,"y":0.0629},{"c":"L9","x":1550,"y":0.0592},
{"c":"L10","x":1800,"y":-0.0012},{"c":"L10","x":1780,"y":0.0010},{"c":"L10","x":1760,"y":0.0038},{"c":"L10","x":1750,"y":0.0054},{"c":"L10","x":1740,"y":0.0071},{"c":"L10","x":1730,"y":0.0093},{"c":"L10","x":1725,"y":0.0102},{"c":"L10","x":1720,"y":0.0112},{"c":"L10","x":1715,"y":0.0122},{"c":"L10","x":1710,"y":0.0135},{"c":"L10","x":1705,"y":0.0148},{"c":"L10","x":1700,"y":0.0160},{"c":"L10","x":1697,"y":0.0166},{"c":"L10","x":1693,"y":0.0175},{"c":"L10","x":1690,"y":0.0183},{"c":"L10","x":1685,"y":0.0197},{"c":"L10","x":1680,"y":0.0214},{"c":"L10","x":1675,"y":0.0236},{"c":"L10","x":1670,"y":0.0266},{"c":"L10","x":1665,"y":0.0294},{"c":"L10","x":1660,"y":0.0312},{"c":"L10","x":1655,"y":0.0321},{"c":"L10","x":1650,"y":0.0320},{"c":"L10","x":1645,"y":0.0325},{"c":"L10","x":1640,"y":0.0344},{"c":"L10","x":1635,"y":0.0378},{"c":"L10","x":1630,"y":0.0425},{"c":"L10","x":1625,"y":0.0495},{"c":"L10","x":1620,"y":0.0610},{"c":"L10","x":1615,"y":0.0800},{"c":"L10","x":1610,"y":0.1120},{"c":"L10","x":1605,"y":0.1430},{"c":"L10","x":1600,"y":0.1650},{"c":"L10","x":1597,"y":0.1725},{"c":"L10","x":1594,"y":0.1745},{"c":"L10","x":1590,"y":0.1700},{"c":"L10","x":1585,"y":0.1545},{"c":"L10","x":1580,"y":0.1335},{"c":"L10","x":1575,"y":0.1105},{"c":"L10","x":1570,"y":0.0918},{"c":"L10","x":1565,"y":0.0782},{"c":"L10","x":1560,"y":0.0690},{"c":"L10","x":1555,"y":0.0626},{"c":"L10","x":1550,"y":0.0589},
{"c":"L11","x":1800,"y":-0.0014},{"c":"L11","x":1780,"y":0.0008},{"c":"L11","x":1760,"y":0.0036},{"c":"L11","x":1750,"y":0.0052},{"c":"L11","x":1740,"y":0.0069},{"c":"L11","x":1730,"y":0.0091},{"c":"L11","x":1725,"y":0.0100},{"c":"L11","x":1720,"y":0.0110},{"c":"L11","x":1715,"y":0.0120},{"c":"L11","x":1710,"y":0.0133},{"c":"L11","x":1705,"y":0.0146},{"c":"L11","x":1700,"y":0.0158},{"c":"L11","x":1697,"y":0.0164},{"c":"L11","x":1693,"y":0.0172},{"c":"L11","x":1690,"y":0.0180},{"c":"L11","x":1685,"y":0.0194},{"c":"L11","x":1680,"y":0.0211},{"c":"L11","x":1675,"y":0.0233},{"c":"L11","x":1670,"y":0.0262},{"c":"L11","x":1665,"y":0.0290},{"c":"L11","x":1660,"y":0.0308},{"c":"L11","x":1655,"y":0.0318},{"c":"L11","x":1650,"y":0.0317},{"c":"L11","x":1645,"y":0.0322},{"c":"L11","x":1640,"y":0.0340},{"c":"L11","x":1635,"y":0.0373},{"c":"L11","x":1630,"y":0.0420},{"c":"L11","x":1625,"y":0.0490},{"c":"L11","x":1620,"y":0.0605},{"c":"L11","x":1615,"y":0.0795},{"c":"L11","x":1610,"y":0.1110},{"c":"L11","x":1605,"y":0.1410},{"c":"L11","x":1600,"y":0.1615},{"c":"L11","x":1597,"y":0.1675},{"c":"L11","x":1594,"y":0.1700},{"c":"L11","x":1590,"y":0.1655},{"c":"L11","x":1585,"y":0.1508},{"c":"L11","x":1580,"y":0.1318},{"c":"L11","x":1575,"y":0.1098},{"c":"L11","x":1570,"y":0.0914},{"c":"L11","x":1565,"y":0.0780},{"c":"L11","x":1560,"y":0.0688},{"c":"L11","x":1555,"y":0.0624},{"c":"L11","x":1550,"y":0.0586}
]
},
"layer": [
  {
    "data": {"name": "spec"},
    "mark": {"type": "line", "strokeWidth": 2, "interpolate": "monotone"},
    "encoding": {
      "x": {"field": "x", "type": "quantitative", "scale": {"domain": [1550, 1800], "reverse": true, "zero": false, "nice": false},
            "axis": {"orient": "bottom", "values": [1800, 1750, 1700, 1650, 1600, 1550], "format": "d", "title": "Wavenumbers cm⁻¹", "titleFontSize": 34, "titlePadding": 12}},
      "y": {"field": "y", "type": "quantitative", "scale": {"domain": [-0.02, 0.2], "zero": false, "nice": false},
            "axis": {"orient": "left", "values": [-0.02, 0, 0.02, 0.04, 0.06, 0.08, 0.1, 0.12, 0.14, 0.16, 0.18, 0.2], "format": "~g", "labelExpr": "replace(datum.label, '−', '—')", "title": "Absorbance", "titlePadding": 38}},
      "color": {"field": "c", "type": "nominal", "legend": null,
        "scale": {"domain": ["U0","U1","U2","U3","U4","U5","U6","U7","U8","U9","U10","U11","U12","L1","L2","L3","L4","L5","L6","L7","L8","L9","L10","L11"],
                  "range": ["#bdbdbd","#b3b3b3","#adadad","#a6a6a6","#9e9e9e","#969696","#8c8c8c","#838383","#7a7a7a","#717171","#686868","#606060","#575757","#c2c2c2","#adadad","#a3a3a3","#999999","#8f8f8f","#858585","#7a7a7a","#6e6e6e","#636363","#585858","#4d4d4d"]}}
    }
  },
  {
    "data": {"name": "spec"},
    "mark": {"type": "line", "opacity": 0},
    "encoding": {
      "x": {"field": "x", "type": "quantitative", "scale": {"domain": [1550, 1800], "reverse": true, "zero": false, "nice": false},
            "axis": {"orient": "top", "values": [1800, 1750, 1700, 1650, 1600, 1550], "labels": false, "title": null}},
      "y": {"field": "y", "type": "quantitative", "scale": {"domain": [-0.02, 0.2], "zero": false, "nice": false},
            "axis": {"orient": "right", "values": [-0.02, 0, 0.02, 0.04, 0.06, 0.08, 0.1, 0.12, 0.14, 0.16, 0.18, 0.2], "labels": false, "title": null}},
      "detail": {"field": "c"}
    }
  },
  {
    "data": {"name": "ann"},
    "mark": {"type": "text", "align": "left", "baseline": "alphabetic", "fontSize": 36, "font": "Liberation Sans, DejaVu Sans", "color": "black"},
    "encoding": {
      "x": {"field": "x", "type": "quantitative", "axis": null},
      "y": {"field": "y", "type": "quantitative", "axis": null},
      "text": {"field": "t"}
    }
  }
],
"resolve": {"axis": {"x": "independent", "y": "independent"}}
}
